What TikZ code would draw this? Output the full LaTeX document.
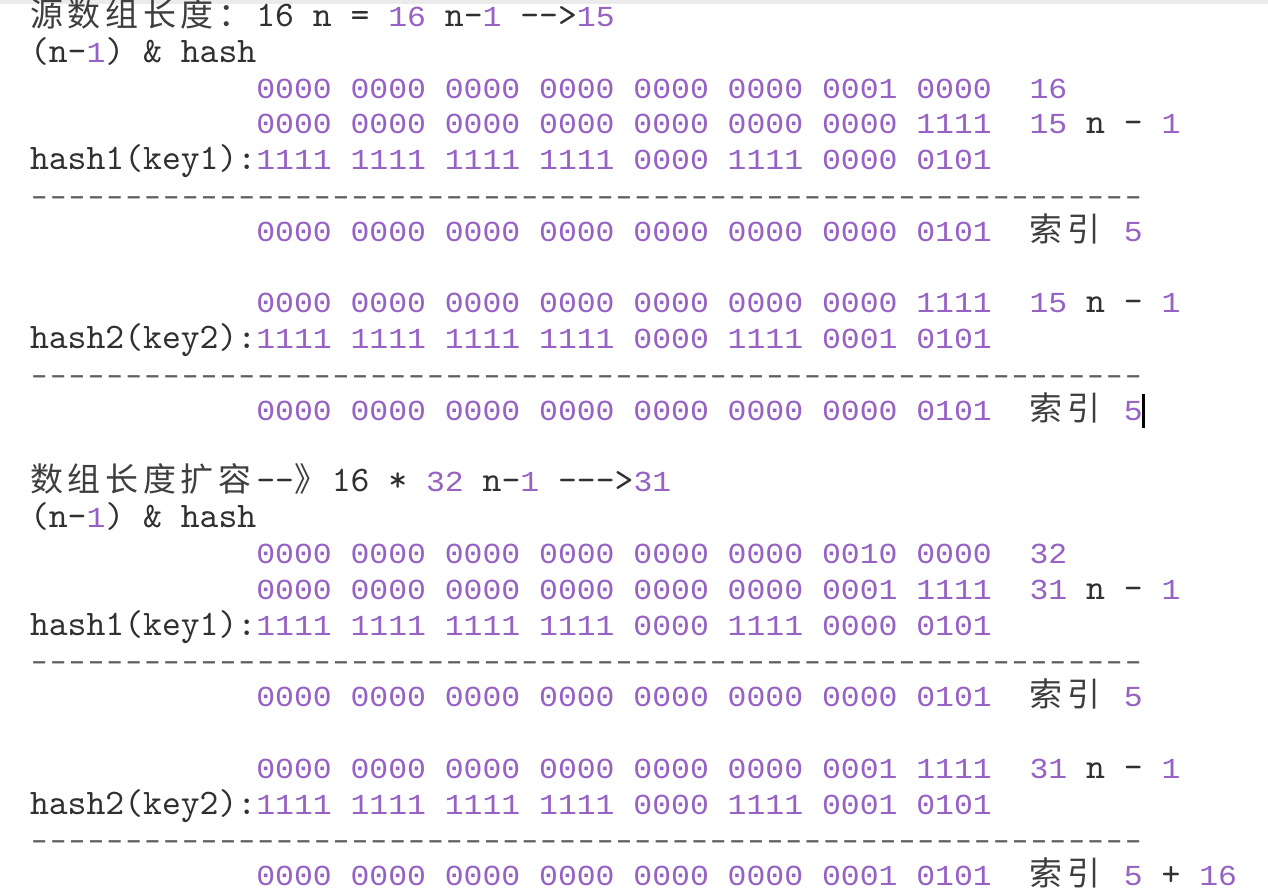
\documentclass[tikz,border=0pt]{standalone}
\usepackage{fontspec}
\usepackage{graphicx}
\newfontfamily\dgf{Liberation Mono}[FakeStretch=1.0838]
\newfontfamily\ltf{lmmono10-regular}[Extension=.otf]
\newfontfamily\cjk{Noto Sans CJK SC}
\definecolor{pur}{RGB}{150,98,196}
\definecolor{ink}{RGB}{48,48,48}
\definecolor{ink2}{RGB}{62,62,62}
\definecolor{dashc}{RGB}{95,95,95}
\newcommand\grp[1]{\makebox[94.3pt][l]{#1}}
\newcommand\G[8]{\grp{#1}\grp{#2}\grp{#3}\grp{#4}\grp{#5}\grp{#6}\grp{#7}#8}
\newcommand\cc[1]{\makebox[37.72pt][l]{#1}}
\newcommand\T[5]{\node[tok,#4] (#1) at ({30+#2*18.86},{-26.5-35.8*#3}) {#5};}
\newcommand\hy{\makebox[18.86pt][c]{\scalebox{1.4}[1]{-}}}
\newcommand\dashrow{\foreach \k in {1,...,59}{\hy}}
\tikzset{
  tok/.style={anchor=base west, inner sep=0pt, outer sep=0pt},
  dg/.style={font={\dgf\fontsize{29}{36}\selectfont}, text=pur},
  lt/.style={font={\ltf\fontsize{35.92}{36}\selectfont}, text=ink},
  cj/.style={font={\cjk\fontsize{33}{36}\selectfont}, text=ink2},
  dsh/.style={font={\dgf\fontsize{29}{36}\selectfont}, text=dashc},
}
\begin{document}
\begin{tikzpicture}[x=1pt,y=1pt]
\useasboundingbox (0,0) rectangle (1268,-892);
\fill[white] (0,0) rectangle (1268,-892);
\fill[black!8] (0,0) rectangle (1268,-4);
% ---- block 1 ----
\T{a0}{0}{0}{cj}{\cc{源}\cc{数}\cc{组}\cc{长}\cc{度}\cc{：}}
\T{a1}{12}{0}{lt}{16}
\T{a2}{15}{0}{lt}{n =}
\T{a3}{19}{0}{dg}{16}
\T{a4}{22}{0}{lt}{n-}
\T{a5}{24}{0}{dg}{1}
\T{a6}{26}{0}{lt}{-{}->}
\T{a7}{29}{0}{dg}{15}
\T{b0}{0}{1}{lt}{(n-}
\T{b1}{3}{1}{dg}{1}
\T{b2}{4}{1}{lt}{) \& hash}
\T{c0}{12}{2}{dg}{\G{0000}{0000}{0000}{0000}{0000}{0000}{0001}{0000}}
\T{c1}{53}{2}{dg}{16}
\T{d0}{12}{3}{dg}{\G{0000}{0000}{0000}{0000}{0000}{0000}{0000}{1111}}
\T{d1}{53}{3}{dg}{15}
\T{d2}{56}{3}{lt}{n}
\T{d3}{58}{3}{lt}{-}
\T{d4}{60}{3}{dg}{1}
\T{e0}{0}{4}{lt}{hash1(key1):}
\T{e1}{12}{4}{dg}{\G{1111}{1111}{1111}{1111}{0000}{1111}{0000}{0101}}
\T{f0}{0}{5}{dsh}{\dashrow}
\T{g0}{12}{6}{dg}{\G{0000}{0000}{0000}{0000}{0000}{0000}{0000}{0101}}
\T{g1}{53}{6}{cj}{\cc{索}\cc{引}}
\T{g2}{58}{6}{dg}{5}
% ---- block 2 ----
\T{h0}{12}{8}{dg}{\G{0000}{0000}{0000}{0000}{0000}{0000}{0000}{1111}}
\T{h1}{53}{8}{dg}{15}
\T{h2}{56}{8}{lt}{n}
\T{h3}{58}{8}{lt}{-}
\T{h4}{60}{8}{dg}{1}
\T{i0}{0}{9}{lt}{hash2(key2):}
\T{i1}{12}{9}{dg}{\G{1111}{1111}{1111}{1111}{0000}{1111}{0001}{0101}}
\T{j0}{0}{10}{dsh}{\dashrow}
\T{k0}{12}{11}{dg}{\G{0000}{0000}{0000}{0000}{0000}{0000}{0000}{0101}}
\T{k1}{53}{11}{cj}{\cc{索}\cc{引}}
\T{k2}{58}{11}{dg}{5}
\node[fill=black, inner sep=0pt, minimum width=2.6pt, minimum height=34pt] (cursor) at (1143.5,-411) {};
% ---- block 3 ----
\T{m0}{0}{13}{cj}{\cc{数}\cc{组}\cc{长}\cc{度}\cc{扩}\cc{容}}
\T{m1}{12}{13}{lt}{-{}-}
\T{m2}{14}{13}{cj}{\cc{》}}
\T{m3}{16}{13}{lt}{16}
\T{m4}{19}{13}{lt}{*}
\T{m5}{21}{13}{dg}{32}
\T{m6}{24}{13}{lt}{n-}
\T{m7}{26}{13}{dg}{1}
\T{m8}{28}{13}{lt}{-{}-{}->}
\T{m9}{32}{13}{dg}{31}
\T{n0}{0}{14}{lt}{(n-}
\T{n1}{3}{14}{dg}{1}
\T{n2}{4}{14}{lt}{) \& hash}
\T{o0}{12}{15}{dg}{\G{0000}{0000}{0000}{0000}{0000}{0000}{0010}{0000}}
\T{o1}{53}{15}{dg}{32}
\T{p0}{12}{16}{dg}{\G{0000}{0000}{0000}{0000}{0000}{0000}{0001}{1111}}
\T{p1}{53}{16}{dg}{31}
\T{p2}{56}{16}{lt}{n}
\T{p3}{58}{16}{lt}{-}
\T{p4}{60}{16}{dg}{1}
\T{q0}{0}{17}{lt}{hash1(key1):}
\T{q1}{12}{17}{dg}{\G{1111}{1111}{1111}{1111}{0000}{1111}{0000}{0101}}
\T{r0}{0}{18}{dsh}{\dashrow}
\T{s0}{12}{19}{dg}{\G{0000}{0000}{0000}{0000}{0000}{0000}{0000}{0101}}
\T{s1}{53}{19}{cj}{\cc{索}\cc{引}}
\T{s2}{58}{19}{dg}{5}
% ---- block 4 ----
\T{t0}{12}{21}{dg}{\G{0000}{0000}{0000}{0000}{0000}{0000}{0001}{1111}}
\T{t1}{53}{21}{dg}{31}
\T{t2}{56}{21}{lt}{n}
\T{t3}{58}{21}{lt}{-}
\T{t4}{60}{21}{dg}{1}
\T{u0}{0}{22}{lt}{hash2(key2):}
\T{u1}{12}{22}{dg}{\G{1111}{1111}{1111}{1111}{0000}{1111}{0001}{0101}}
\T{v0}{0}{23}{dsh}{\dashrow}
\T{w0}{12}{24}{dg}{\G{0000}{0000}{0000}{0000}{0000}{0000}{0001}{0101}}
\T{w1}{53}{24}{cj}{\cc{索}\cc{引}}
\T{w2}{58}{24}{dg}{5}
\T{w3}{60}{24}{lt}{+}
\T{w4}{62}{24}{dg}{16}
\end{tikzpicture}
\end{document}
